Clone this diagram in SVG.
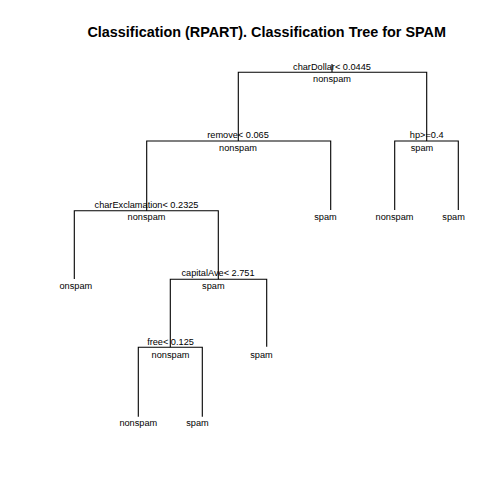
<svg xmlns="http://www.w3.org/2000/svg" width="504" height="504" viewBox="0 0 504 504">
<style>
.t{font-family:"Liberation Sans",Arial,sans-serif;font-size:9.2px;fill:#000;text-anchor:middle}
.title{font-family:"Liberation Sans",Arial,sans-serif;font-size:14.4px;font-weight:bold;fill:#000;text-anchor:middle}
.e{stroke:#000;stroke-width:1.1;fill:none}
</style>
<rect width="504" height="504" fill="#fff"/>
<text class="title" x="266.7" y="36.5">Classification (RPART). Classification Tree for SPAM</text>
<g id="connectors">
<path class="e" d="M332,64 V72.3 M238.3,141 V72.3 H426.7 V141"/>
<path class="e" d="M146.7,210.7 V141 H330.7 V210"/>
<path class="e" d="M394.7,210 V141 H458.3 V210"/>
<path class="e" d="M74.3,279 V210.7 H218.3 V279.3"/>
<path class="e" d="M170.3,347.3 V279.3 H266.7 V346.7"/>
<path class="e" d="M138.3,416.7 V347.3 H202.3 V416.7"/>
</g>
<g id="n1"><text class="t" x="332" y="69.5">charDollar&lt; 0.0445</text><text class="t" x="332" y="81.7">nonspam</text></g>
<g id="n2"><text class="t" x="238" y="138">remove&lt; 0.065</text><text class="t" x="238" y="150.5">nonspam</text></g>
<g id="n3"><text class="t" x="426.7" y="138">hp&gt;=0.4</text><text class="t" x="422" y="150.5">spam</text></g>
<g id="n4"><text class="t" x="146.5" y="207.5">charExclamation&lt; 0.2325</text><text class="t" x="146.5" y="220">nonspam</text></g>
<g id="n5"><text class="t" x="325.5" y="220">spam</text></g>
<g id="n6"><text class="t" x="394.5" y="220">nonspam</text></g>
<g id="n7"><text class="t" x="453.6" y="220">spam</text></g>
<g id="n8"><text class="t" x="59.5" y="288.5" style="text-anchor:start">onspam</text></g>
<g id="n9"><text class="t" x="218" y="276">capitalAve&lt; 2.751</text><text class="t" x="213.3" y="288.5">spam</text></g>
<g id="n10"><text class="t" x="170.5" y="344.5">free&lt; 0.125</text><text class="t" x="170.5" y="357.5">nonspam</text></g>
<g id="n11"><text class="t" x="261.5" y="357.5">spam</text></g>
<g id="n12"><text class="t" x="138.3" y="426">nonspam</text></g>
<g id="n13"><text class="t" x="197.5" y="426">spam</text></g>
</svg>
